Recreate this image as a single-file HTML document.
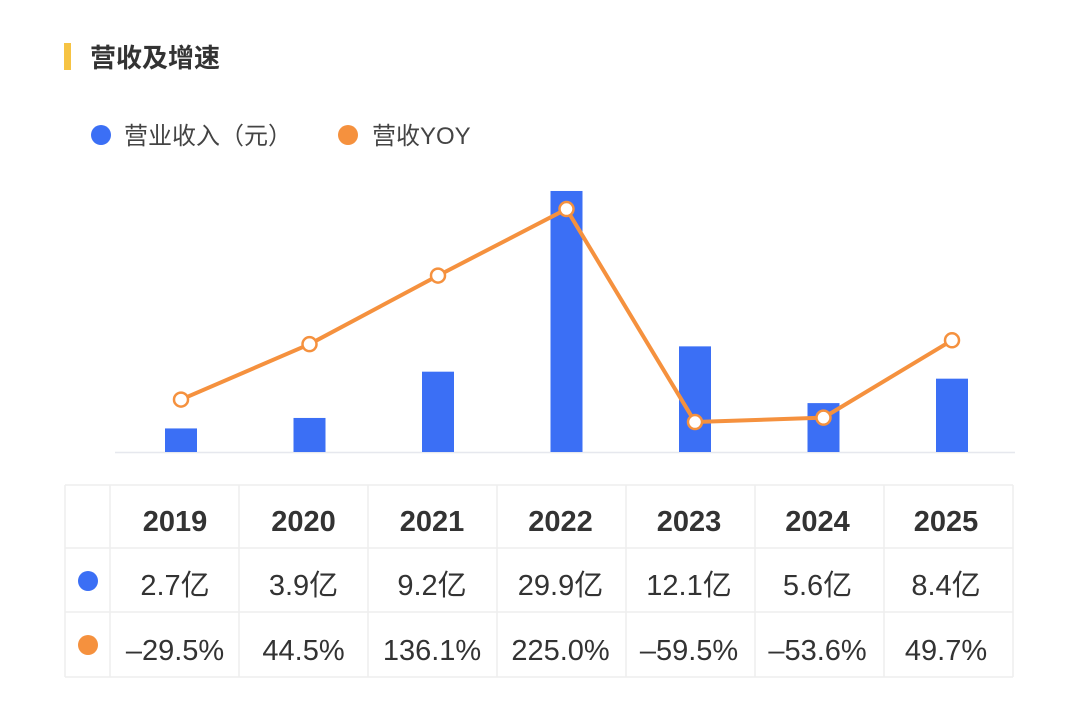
<!DOCTYPE html>
<html><head><meta charset="utf-8"><style>
body{margin:0;background:#fff;width:1080px;height:699px;overflow:hidden;font-family:"Liberation Sans","Noto Sans CJK SC",sans-serif;}
svg text{font-family:"Liberation Sans","Noto Sans CJK SC",sans-serif;}
</style></head><body>
<svg id="c" width="1080" height="699">
<rect x="64" y="43" width="7" height="27" fill="#f6c343"/>
<text x="90" y="67" font-size="26" font-weight="bold" fill="#333">营收及增速</text>
<circle cx="101" cy="135" r="10" fill="#3b6ff5"/>
<text x="124" y="144" font-size="24" fill="#444">营业收入（元）</text>
<circle cx="348" cy="135" r="10" fill="#f5913e"/>
<text x="372" y="144" font-size="24" fill="#444">营收YOY</text>
<line x1="115" y1="452.5" x2="1015" y2="452.5" stroke="#e6e8ee" stroke-width="1.5"/>
<g id="bars"></g><g id="line"></g><g id="table"></g>
</svg>
<script>
const years=["2019","2020","2021","2022","2023","2024","2025"];
const revenue=[2.7,3.9,9.2,29.9,12.1,5.6,8.4];
const yoy=[-29.5,44.5,136.1,225.0,-59.5,-53.6,49.7];
const revLabels=["2.7亿","3.9亿","9.2亿","29.9亿","12.1亿","5.6亿","8.4亿"];
const yoyLabels=["–29.5%","44.5%","136.1%","225.0%","–59.5%","–53.6%","49.7%"];
const NS="http://www.w3.org/2000/svg";
const xc=i=>181+i*128.5;
const yRev=v=>452-v*8.73;
const yYoy=v=>377.5-v*0.7487;
function mk(t,a,p){const e=document.createElementNS(NS,t);for(const k in a)e.setAttribute(k,a[k]);p.appendChild(e);return e;}
const bars=document.getElementById('bars'),line=document.getElementById('line'),tb=document.getElementById('table');
revenue.forEach((v,i)=>{const r=mk('rect',{x:xc(i)-16,y:yRev(v),width:32,height:452-yRev(v),fill:'#3b6ff5'},bars);

});
const pts=yoy.map((v,i)=>xc(i)+','+yYoy(v)).join(' ');
const pl=mk('polyline',{points:pts,fill:'none',stroke:'#f5913e','stroke-width':4,'stroke-linejoin':'round'},line);


yoy.forEach((v,i)=>{const c=mk('circle',{cx:xc(i),cy:yYoy(v),r:7,fill:'#fff',stroke:'#f5913e','stroke-width':2.5},line);

});
const cols=[65,110,239,368,497,626,755,884,1013];const rows=[485,548,612,677];
cols.forEach(x=>{const l=mk('line',{x1:x,y1:485,x2:x,y2:677,stroke:'#eeeeee','stroke-width':1.5},tb);

});
rows.forEach(y=>{const l=mk('line',{x1:65,y1:y,x2:1013,y2:y,stroke:'#eeeeee','stroke-width':1.5},tb);

});
const m1=mk('circle',{cx:88,cy:581,r:10,fill:'#3b6ff5'},tb);


const m2=mk('circle',{cx:88,cy:645,r:10,fill:'#f5913e'},tb);


[[years,531,'table-year','bold'],[revLabels,595,'table-revenue','normal'],[yoyLabels,660,'table-yoy','normal']].forEach(([arr,y,n,w])=>{
arr.forEach((s,i)=>{const t=mk('text',{x:xc(i)-6,y:y,'font-size':29,'font-weight':w,fill:'#333','text-anchor':'middle'},tb);t.textContent=s;

});});
</script>
</body></html>
